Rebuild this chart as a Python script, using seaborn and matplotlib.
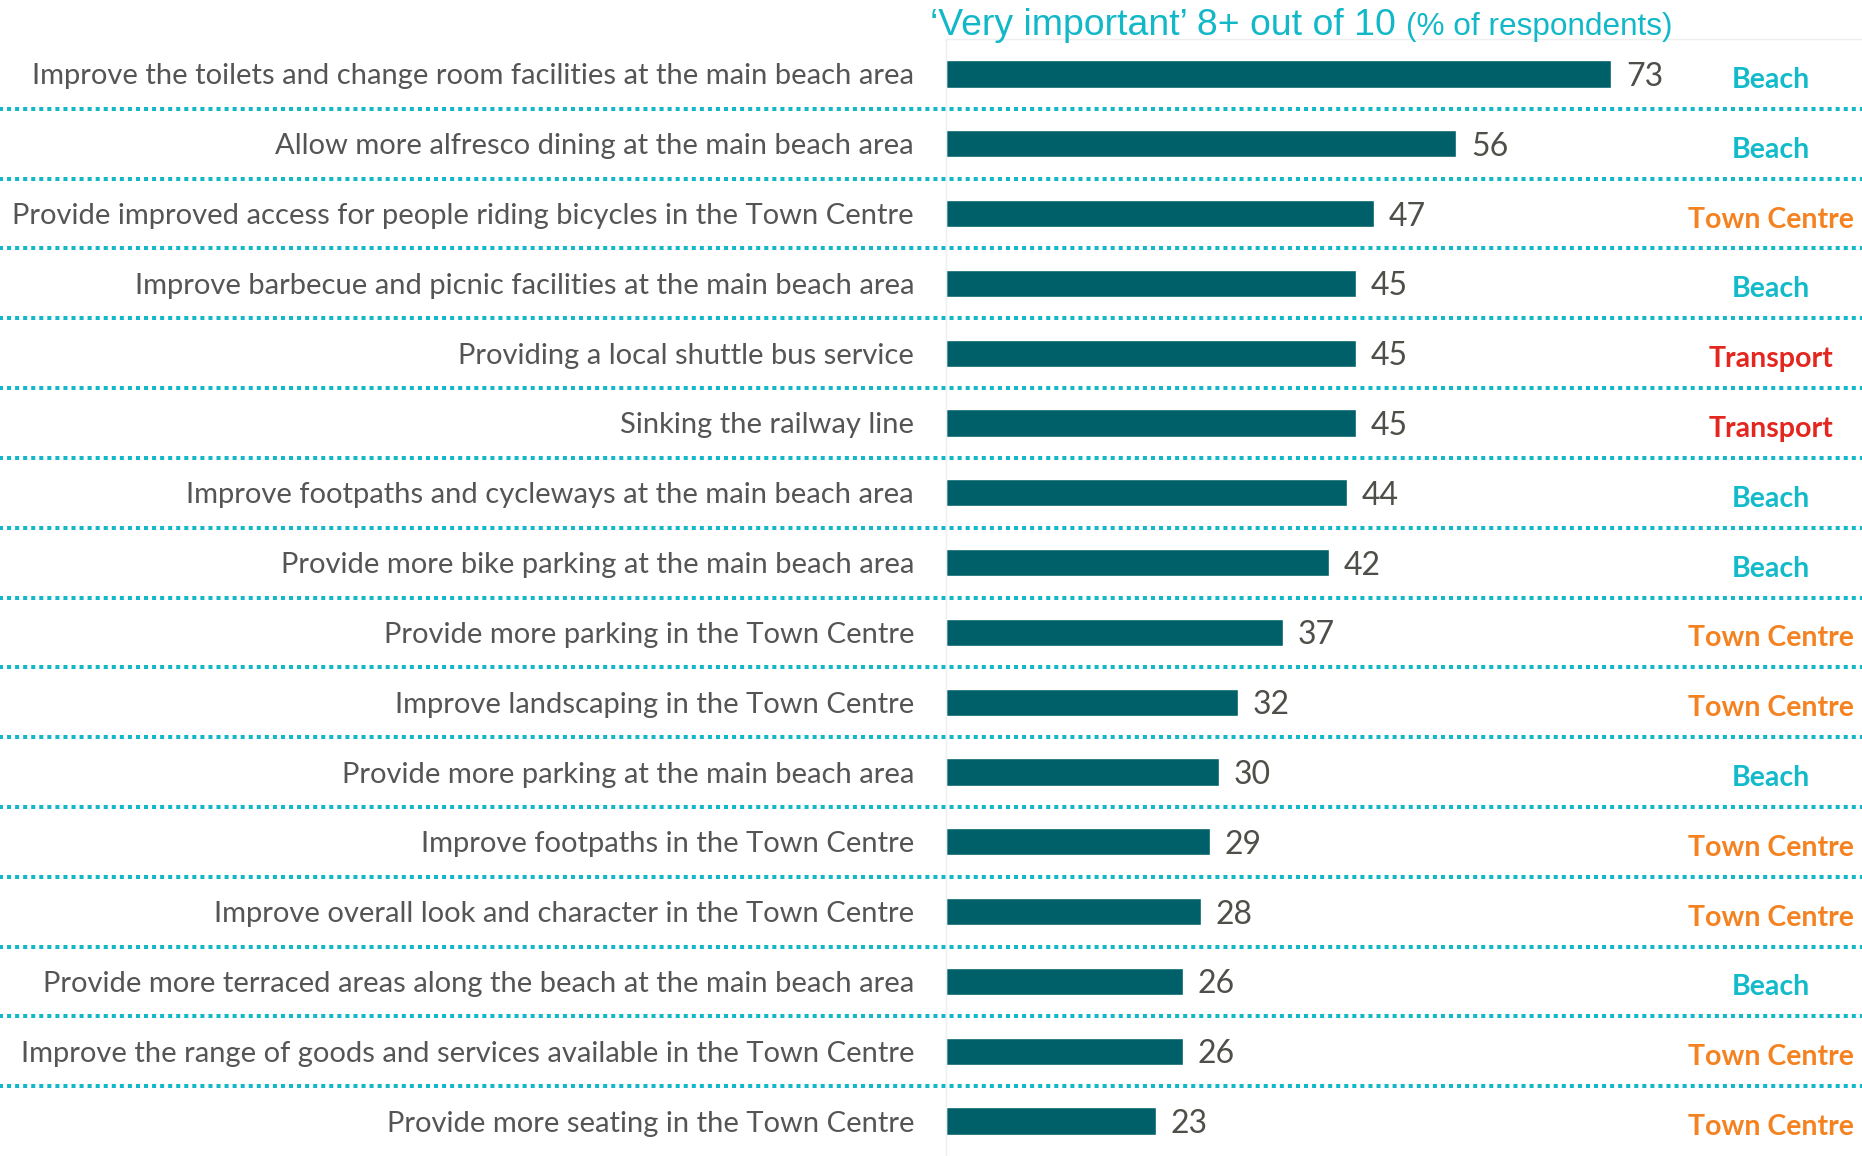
import pandas as pd
import numpy as np
import matplotlib
matplotlib.use('Agg')
import matplotlib.pyplot as plt
import seaborn as sns

# ==================================================================================================

items = [
    "Improve the toilets and change room facilities at the main beach area",
    "Allow more alfresco dining at the main beach area",
    "Provide improved access for people riding bicycles in the Town Centre",
    "Improve barbecue and picnic facilities at the main beach area",
    "Providing a local shuttle bus service",
    "Sinking the railway line",
    "Improve footpaths and cycleways at the main beach area",
    "Provide more bike parking at the main beach area",
    "Provide more parking in the Town Centre",
    "Improve landscaping in the Town Centre",
    "Provide more parking at the main beach area",
    "Improve footpaths in the Town Centre",
    "Improve overall look and character in the Town Centre",
    "Provide more terraced areas along the beach at the main beach area",
    "Improve the range of goods and services available in the Town Centre",
    "Provide more seating in the Town Centre",
]
scores = [73, 56, 47, 45, 45, 45, 44, 42, 37, 32, 30, 29, 28, 26, 26, 23]
areas = ["Beach", "Beach", "Town Centre", "Beach", "Transport", "Transport", "Beach", "Beach",
         "Town Centre", "Town Centre", "Beach", "Town Centre", "Town Centre", "Beach",
         "Town Centre", "Town Centre"]

area_colors = {"Beach": "#12BACA", "Town Centre": "#F58220", "Transport": "#E3261E"}
bar_color = "#00606A"
cyan = "#12B8C8"

# ==================================================================================================

df = pd.DataFrame({"item": items, "score": scores, "area": areas})

sns.set_style("white")
plt.rcParams['font.family'] = ['Lato', 'DejaVu Sans']

W, H = 1862, 1156
fig = plt.figure(figsize=(W / 100, H / 100), dpi=100)
renderer = fig.canvas.get_renderer()


# подбор размера шрифта под ширину текста в пикселях
def fit_size(text, target_px, **kw):
    t = fig.text(0, 0, text, fontsize=20, **kw)
    w = t.get_window_extent(renderer).width
    t.remove()
    return 20 * target_px / w


label_fs = fit_size(items[2], 904)
value_fs = fit_size("73", 37)
area_fs = fit_size("Town Centre", 166, fontweight="bold")
title_fs = fit_size("\u2018Very important\u2019 8+ out of 10", 464, family="Liberation Sans")
sub_fs = fit_size("(% of respondents)", 266, family="Liberation Sans")

ax = fig.add_axes([946 / W, 0, 1 - 946 / W, 1 - 39 / H])

sns.barplot(data=df, x="score", y="item", color=bar_color, width=0.39, saturation=1, ax=ax)
ax.set_xlim(0, 100.5)
ax.set_xlabel("")
ax.set_ylabel("")
ax.set_xticks([])
ax.tick_params(axis="y", length=0, pad=23, labelsize=label_fs, labelcolor="#555555")
for s in ["right", "bottom"]:
    ax.spines[s].set_visible(False)
for s in ["left", "top"]:
    ax.spines[s].set_color("#eeeeee")
    ax.spines[s].set_linewidth(1)

# подписи значений, районы и пунктирные разделители
for i, row in df.iterrows():
    ax.text(row.score + 1.6, i, f"{row.score}", va="center_baseline", ha="left",
            fontsize=value_fs, color="#4f4f4a")
    ax.text(90.5, i + 0.05, row.area, ha="center", va="center_baseline", fontsize=area_fs,
            fontweight="bold", color=area_colors[row.area])
    if i < len(df) - 1:
        ax.axhline(i + 0.5, xmin=-1.04, xmax=1, clip_on=False, color=cyan, lw=2.9,
                   ls=(0, (1, 1)))

# заголовок из двух частей
t1 = fig.text(930 / W, 1 - 35 / H, "\u2018Very important\u2019 8+ out of 10", fontsize=title_fs,
              color=cyan, va="baseline", ha="left", family="Liberation Sans")
bb = t1.get_window_extent(renderer)
fig.text((bb.x1 + 10) / W, 1 - 35 / H, "(% of respondents)", fontsize=sub_fs, color=cyan,
         va="baseline", ha="left", family="Liberation Sans")

fig.savefig("out.png", dpi=100)
